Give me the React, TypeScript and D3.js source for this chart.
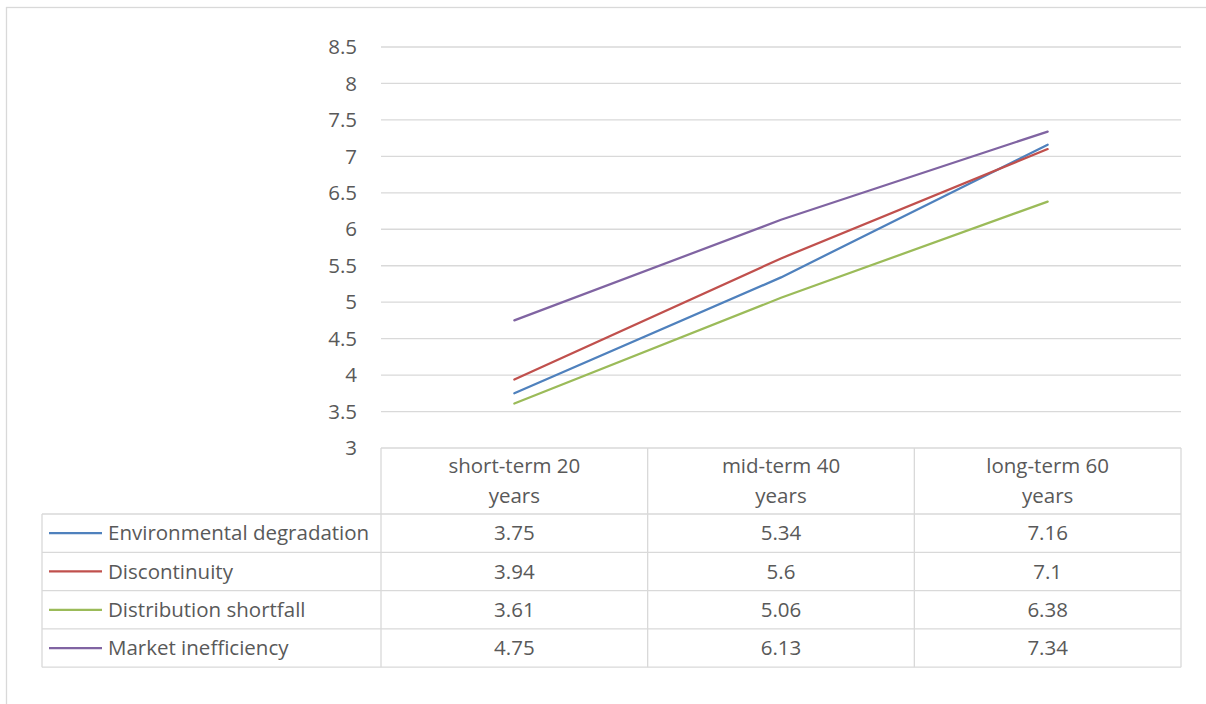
import React from "react";
import * as d3 from "d3";

const categories = ["short-term 20 years", "mid-term 40 years", "long-term 60 years"];
const categoryLines = [["short-term 20", "years"], ["mid-term 40", "years"], ["long-term 60", "years"]];
const seriesNames = ["Environmental degradation", "Discontinuity", "Distribution shortfall", "Market inefficiency"];
const envValues = [3.75, 5.34, 7.16];
const discValues = [3.94, 5.6, 7.1];
const distValues = [3.61, 5.06, 6.38];
const marketValues = [4.75, 6.13, 7.34];
const tableLabels = [["3.75", "5.34", "7.16"], ["3.94", "5.6", "7.1"], ["3.61", "5.06", "6.38"], ["4.75", "6.13", "7.34"]];
const yTicks = [3, 3.5, 4, 4.5, 5, 5.5, 6, 6.5, 7, 7.5, 8, 8.5];
const colors = ["#4F81BD", "#C0504D", "#9BBB59", "#8064A2"];

const W = 1206, H = 704;
const plotLeft = 381, plotRight = 1181, plotTop = 47, plotBottom = 448;
const headerBottom = 514;
const rowH = 38.3;
const legendLeft = 42;
const FONT = "Open Sans, sans-serif";
const TXT = "#595959";
const GRID = "#D9D9D9";

export default function App() {
  const allSeries = [envValues, discValues, distValues, marketValues];
  const x = d3.scaleBand<string>().domain(categories).range([plotLeft, plotRight]);
  const y = d3.scaleLinear().domain([3, 8.5]).range([plotBottom, plotTop]);
  const line = d3.line<number>()
    .x((_, i) => (x(categories[i]) as number) + x.bandwidth() / 2)
    .y((d) => y(d));
  const fs = 20.5;
  return (
    <svg width={W} height={H} style={{ position: "absolute", left: 0, top: 0, background: "#fff" }}>
      <rect x={6.5} y={7.5} width={W + 10} height={H + 10} fill="#fff" stroke={GRID} strokeWidth={1.3} />
      {yTicks.map((t) => (
        <g key={t}>
          {t > 3 && <line x1={plotLeft} x2={plotRight} y1={y(t)} y2={y(t)} stroke={GRID} strokeWidth={1.3} />}
          <text x={357} y={y(t)} dy="0.35em" textAnchor="end" fontFamily={FONT} fontSize={fs} fill={TXT}>{t}</text>
        </g>
      ))}
      {allSeries.map((s, i) => (
        <path key={i} d={line(s) || ""} fill="none" stroke={colors[i]} strokeWidth={2.25} strokeLinecap="round" />
      ))}
      {/* data table */}
      <g stroke={GRID} strokeWidth={1.3} fill="none">
        <line x1={plotLeft} x2={plotRight} y1={plotBottom} y2={plotBottom} />
        {[0, 1, 2, 3].map((k) => (
          <line key={k} x1={plotLeft + k * x.step()} x2={plotLeft + k * x.step()} y1={plotBottom} y2={headerBottom + 4 * rowH} />
        ))}
        <line x1={legendLeft} x2={legendLeft} y1={headerBottom} y2={headerBottom + 4 * rowH} />
        {[0, 1, 2, 3, 4].map((r) => (
          <line key={r} x1={legendLeft} x2={plotRight} y1={headerBottom + r * rowH} y2={headerBottom + r * rowH} />
        ))}
      </g>
      {categoryLines.map((lines, i) => (
        <text key={i} textAnchor="middle" fontFamily={FONT} fontSize={fs} fill={TXT}>
          {lines.map((l, j) => (
            <tspan key={j} x={(x(categories[i]) as number) + x.bandwidth() / 2} y={466 + j * 30} dy="0.35em">{l}</tspan>
          ))}
        </text>
      ))}
      {seriesNames.map((n, r) => {
        const cy = headerBottom + r * rowH + rowH / 2;
        return (
          <g key={n}>
            <line x1={49} x2={102} y1={cy} y2={cy} stroke={colors[r]} strokeWidth={2.25} />
            <text x={108} y={cy} dy="0.35em" fontFamily={FONT} fontSize={fs} fill={TXT}>{n}</text>
            {tableLabels[r].map((v, c) => (
              <text key={c} x={(x(categories[c]) as number) + x.bandwidth() / 2} y={cy} dy="0.35em" textAnchor="middle" fontFamily={FONT} fontSize={fs} fill={TXT}>{v}</text>
            ))}
          </g>
        );
      })}
    </svg>
  );
}
